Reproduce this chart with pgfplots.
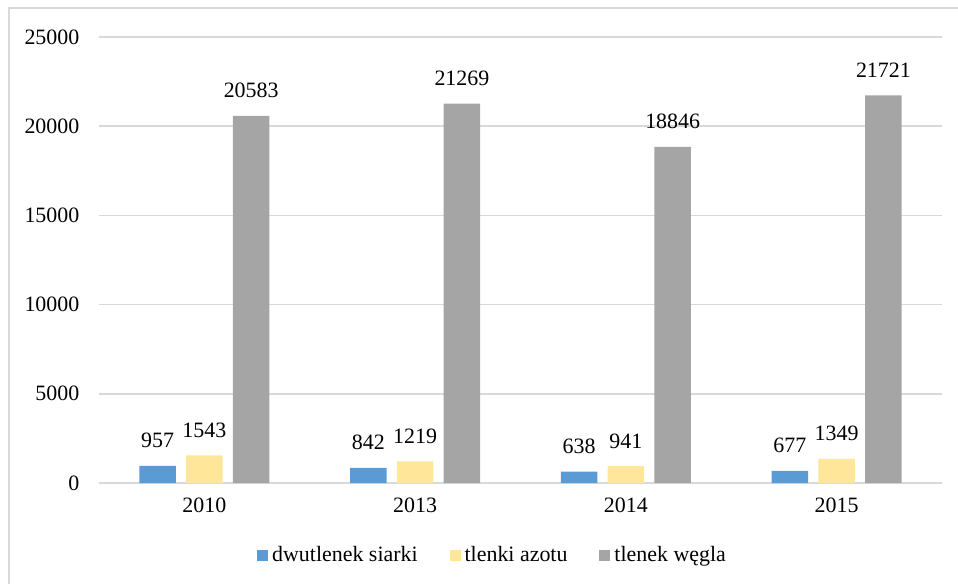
\documentclass[border=0pt]{standalone}
\usepackage{pgfplots}
\pgfplotsset{compat=1.18}
\usepackage{fontspec}
\setmainfont{Liberation Serif}
\definecolor{cblue}{HTML}{5B9BD5}
\definecolor{cyellow}{HTML}{FFE699}
\definecolor{cgray}{HTML}{A5A5A5}
\definecolor{cgrid}{HTML}{D9D9D9}
\begin{document}
\fontsize{11}{13.2}\selectfont
\begin{tikzpicture}
\useasboundingbox (-49.5bp,-50.5bp) rectangle (429.5bp,241.5bp);
\draw[cgrid, line width=0.8bp] (-45bp,-60bp) -- (-45bp,237.5bp) -- (440bp,237.5bp);
\begin{axis}[
  at={(0,0)}, anchor=south west,
  scale only axis,
  width=421.5bp, height=223bp,
  xmin=-0.5, xmax=3.5, ymin=0, ymax=25000,
  ybar=5.2bp, bar width=18.2bp,
  axis line style={draw=none},
  axis x line*=bottom,
  xtick={0,1,2,3}, xticklabels={2010,2013,2014,2015},
  ytick={0,5000,10000,15000,20000,25000},
  major tick length=0pt,
  ymajorgrids, grid style={cgrid, line width=0.8bp},
  extra y ticks={0}, extra y tick style={grid style={cgrid, line width=1.2bp}, yticklabels={}},
  scaled y ticks=false,
  /pgf/number format/.cd, 1000 sep={}, assume math mode=true, /pgfplots/.cd,
  yticklabel style={font=\fontsize{11}{13.2}\selectfont, xshift=-6bp},
  xticklabel style={font=\fontsize{11}{13.2}\selectfont, yshift=-3.5bp},
  nodes near coords,
  every node near coord/.append style={font=\fontsize{11}{13.2}\selectfont, anchor=base, inner sep=0pt, yshift=9bp, black},
  legend columns=3,
  legend style={draw=none, at={(0.468,-0.1635)}, anchor=center, font=\fontsize{11}{13.2}\selectfont,
    /tikz/every even column/.append style={column sep=14bp}, inner sep=0pt},
  legend image code/.code={\fill[#1] (0bp,-2.75bp) rectangle (5.5bp,2.75bp);},
  clip=false,
]
\addplot[fill=cblue, draw=none] coordinates {(0,957) (1,842) (2,638) (3,677)};
\addplot[fill=cyellow, draw=none] coordinates {(0,1543) (1,1219) (2,941) (3,1349)};
\addplot[fill=cgray, draw=none] coordinates {(0,20583) (1,21269) (2,18846) (3,21721)};
\legend{dwutlenek siarki, tlenki azotu, tlenek węgla}
\end{axis}
\end{tikzpicture}
\end{document}
